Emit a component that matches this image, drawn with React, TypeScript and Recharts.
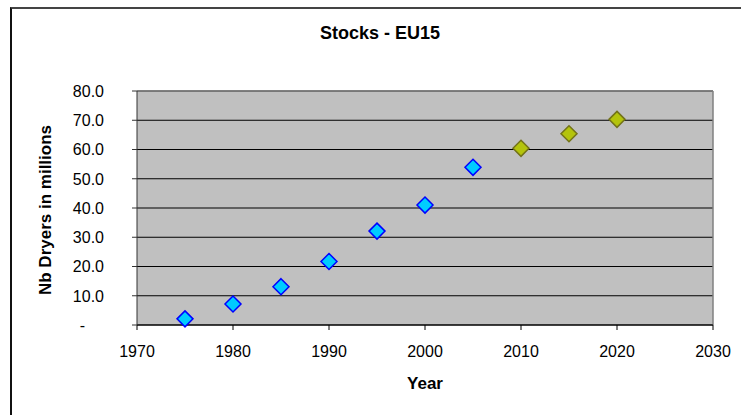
import React from 'react'
import {
  ScatterChart,
  Scatter,
  XAxis,
  YAxis,
  CartesianGrid,
  ReferenceLine,
} from 'recharts'

// values
const historyYears = [1975, 1980, 1985, 1990, 1995, 2000, 2005]
const historyStock = [2.1, 7.2, 13.1, 21.7, 32.1, 41.0, 53.9]
const forecastYears = [2010, 2015, 2020]
const forecastStock = [60.4, 65.4, 70.3]
const xTicks = [1970, 1980, 1990, 2000, 2010, 2020, 2030]
const yTicks = [0, 10, 20, 30, 40, 50, 60, 70, 80]

const historyData = historyYears.map((year, i) => ({ year, stock: historyStock[i] }))
const forecastData = forecastYears.map((year, i) => ({ year, stock: forecastStock[i] }))

const FONT = '"Liberation Sans", Arial, sans-serif'

const Diamond = (fill: string, stroke: string) => (props: any) => {
  const { cx, cy } = props
  const r = 8
  return (
    <path
      d={`M${cx},${cy - r}L${cx + r},${cy}L${cx},${cy + r}L${cx - r},${cy}Z`}
      fill={fill}
      stroke={stroke}
      strokeWidth={1.5}
    />
  )
}

const YTick = (props: any) => {
  const { x, y, payload } = props
  const zero = payload.value === 0
  return (
    <text
      x={zero ? x - 19 : x}
      y={y}
      dy="0.36em"
      textAnchor="end"
      fontSize={16}
      fontFamily={FONT}
      fill="#000"
    >
      {zero ? '-' : payload.value.toFixed(1)}
    </text>
  )
}

export default function App() {
  return (
    <div style={{ position: 'fixed', left: 0, top: 0, width: 741, height: 415, background: '#fff' }}>
      <div
        style={{
          position: 'absolute',
          left: 10,
          top: 7,
          width: 731,
          height: 408,
          borderTop: '2px solid #444',
          borderLeft: '2px solid #111',
          boxSizing: 'border-box',
        }}
      />
      <ScatterChart
        width={741}
        height={415}
        margin={{ top: 91, right: 28, bottom: 0, left: 0 }}
        style={{ position: 'absolute', left: 0, top: 0 }}
      >
        <CartesianGrid vertical={false} fill="#C0C0C0" stroke="#000" strokeWidth={1} />
        <XAxis
          type="number"
          dataKey="year"
          domain={[1970, 2030]}
          ticks={xTicks}
          height={90}
          tickSize={5}
          tickMargin={16}
          stroke="#000"
          tick={{ fill: '#000', fontSize: 16, fontFamily: FONT }}
        />
        <YAxis
          type="number"
          dataKey="stock"
          domain={[0, 80]}
          ticks={yTicks}
          width={137}
          tickSize={5}
          tickMargin={28}
          stroke="#333"
          tick={<YTick />}
        />
        <ReferenceLine y={80} stroke="#808080" strokeWidth={1.5} />
        <ReferenceLine x={2030} stroke="#808080" strokeWidth={1.5} />
        <Scatter
          data={historyData}
          shape={Diamond('#00CCFF', '#0000FF')}
          isAnimationActive={false}
        />
        <Scatter
          data={forecastData}
          shape={Diamond('#B4C40C', '#737318')}
          isAnimationActive={false}
        />
      </ScatterChart>
      <svg
        width={741}
        height={415}
        style={{ position: 'absolute', left: 0, top: 0, pointerEvents: 'none' }}
      >
        <text x={380} y={33} dy="0.36em" textAnchor="middle" fontSize={18} fontWeight="bold" fontFamily={FONT}>
          Stocks - EU15
        </text>
        <text x={425} y={383} dy="0.36em" textAnchor="middle" fontSize={17} fontWeight="bold" fontFamily={FONT}>
          Year
        </text>
        <text
          x={0}
          y={0}
          dy="0.36em"
          textAnchor="middle"
          fontSize={17}
          fontWeight="bold"
          fontFamily={FONT}
          transform="translate(45,210) rotate(-90)"
        >
          Nb Dryers in millions
        </text>
      </svg>
    </div>
  )
}
